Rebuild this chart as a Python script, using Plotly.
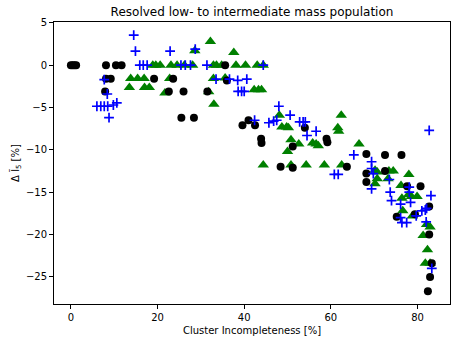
import plotly.graph_objects as go

# Black circles
black_x = [0.0, 0.4, 0.8, 1.2, 8.1, 10.4, 11.7, 8.1, 9.2, 7.9, 19.2, 23.6, 22.6, 26.0,
           25.5, 28.4, 31.5, 35.6, 36.0, 39.6, 41.0, 42.5, 43.9, 44.0, 51.2, 54.0,
           59.0, 59.2, 48.4, 51.2, 63.7, 68.2, 72.5, 76.3, 68.2, 68.2, 72.5, 77.6,
           80.7, 79.4, 75.2, 82.7, 82.7, 83.3, 82.9, 82.4]
black_y = [0, 0, 0, 0, 0, 0, 0, -1.6, -1.6, -3.1, -1.6, -1.6, -3.1, -3.1,
           -6.2, -6.2, -3.1, 0, -1.8, -7.1, -6.5, -7.1, -8.7, -9.2, -9.6, -7.4,
           -8.7, -9.1, -12.0, -12.1, -12.0, -10.5, -10.6, -10.6, -12.8, -13.8, -12.5, -14.3,
           -14.3, -17.6, -17.9, -16.7, -20.0, -23.4, -25.0, -26.7]

# Blue pluses
blue_x = [14.5, 14.9, 22.9, 28.7, 15.9, 16.7, 17.6, 25.4, 26.4, 27.6, 31.4, 44.4,
          7.7, 8.4, 6.0, 6.9, 7.7, 8.5, 9.8, 10.6, 8.8,
          33.5, 36.6, 38.5, 40.6, 38.6, 39.4, 40.0, 48.0, 50.6,
          42.4, 45.7, 46.8, 47.5, 52.8, 53.6, 54.1, 56.6, 54.5, 60.8, 61.7,
          65.3, 69.4, 69.4, 69.8, 73.5, 69.4, 73.7, 74.0,
          78.1, 78.1, 78.4, 83.1, 76.1, 81.0, 81.8, 82.1,
          79.7, 76.1, 76.4, 77.5, 82.0, 82.7, 83.3]
blue_y = [3.55, 1.65, 1.65, 1.9, 0, 0, 0, 0, 0, 0, 0, 0,
          -1.7, -3.4, -4.85, -4.85, -4.85, -4.85, -4.7, -4.45, -6.2,
          -1.65, -1.65, -1.8, -1.65, -3.1, -3.1, -3.1, -4.85, -5.9,
          -6.5, -6.8, -6.6, -6.5, -6.7, -6.7, -6.7, -7.8, -8.3, -12.9, -12.9,
          -10.6, -11.4, -12.2, -12.8, -13.5, -14.6, -15.0, -16.0,
          -14.4, -15.0, -16.2, -15.4, -16.4, -17.2, -17.1, -16.9,
          -17.8, -18.0, -18.6, -18.6, -18.5, -7.7, -24.0]

# Green triangles
green_x = [28.6, 32.2, 37.6,
           18.9, 19.6, 20.6, 23.1, 24.5, 26.2, 28.1, 32.9, 33.6, 34.8, 38.1, 40.3, 43.0, 44.4,
           13.8, 15.4, 16.9, 22.8, 32.9, 35.6,
           13.5, 17.0, 18.1, 21.7, 31.8, 42.3, 43.3, 44.0, 33.0,
           48.1, 48.7, 49.8, 50.2, 50.8, 52.6, 50.0, 55.8, 56.6, 57.1,
           62.4, 61.6, 61.8, 66.5,
           44.4, 50.8, 54.3, 58.5, 62.5,
           70.2, 70.7, 73.4, 74.4, 78.0, 70.2, 70.7, 73.2,
           76.2, 76.4, 77.9, 78.6, 79.9, 76.6, 78.8,
           82.1, 82.9, 81.3, 82.3, 81.8, 82.9]
green_y = [1.7, 2.8, 1.5,
           0, 0, 0, 0, 0, 0, 0, 0, 0, 0, 0, 0, 0, 0,
           -1.57, -1.57, -1.57, -1.57, -1.57, -1.5,
           -2.64, -2.64, -2.64, -3.27, -3.15, -2.9, -2.9, -2.9, -4.6,
           -5.9, -7.3, -7.3, -7.4, -8.8, -9.3, -10.2, -9.2, -9.3, -9.5,
           -5.9, -7.4, -7.8, -9.3,
           -11.8, -11.8, -11.8, -11.8, -11.8,
           -12.4, -12.6, -12.5, -12.5, -12.9, -14.0, -13.4, -13.4,
           -14.2, -15.7, -15.3, -15.5, -15.5, -17.2, -17.8,
           -18.8, -19.1, -20.1, -21.8, -23.4, -23.4]

x_ticks = [0, 20, 40, 60, 80]
y_ticks = [5, 0, -5, -10, -15, -20, -25]

fig = go.Figure()
fig.add_trace(go.Scatter(x=green_x, y=green_y, mode="markers",
                         marker=dict(symbol="triangle-up", size=10, color="green",
                                     line=dict(width=0))))
fig.add_trace(go.Scatter(x=black_x, y=black_y, mode="markers",
                         marker=dict(symbol="circle", size=8, color="black",
                                     line=dict(width=0))))
fig.add_trace(go.Scatter(x=blue_x, y=blue_y, mode="markers",
                         marker=dict(symbol="cross-thin", size=7, color="blue",
                                     line=dict(width=1.7, color="blue"))))

axis_common = dict(showgrid=False, zeroline=False, showline=True, linecolor="black",
                   linewidth=1, mirror=True, ticks="outside", ticklen=4, tickcolor="black",
                   automargin=False,
                   tickfont=dict(family="DejaVu Sans", size=10, color="black"))

fig.update_layout(
    width=457, height=341,
    margin=dict(l=54, r=7, t=22, b=37),
    plot_bgcolor="white", paper_bgcolor="white",
    showlegend=False,
    title=dict(text="Resolved low- to intermediate mass population",
               x=0.5, xref="paper", xanchor="center",
               y=1 - 12 / 341, yref="container", yanchor="middle",
               font=dict(family="DejaVu Sans", size=12, color="black")),
    xaxis=dict(range=[-3.9, 87.5], tickvals=x_ticks,
               title=dict(text="Cluster Incompleteness [%]", standoff=4,
                          font=dict(family="DejaVu Sans", size=10, color="black")),
               **axis_common),
    yaxis=dict(range=[-28.2, 5.1], tickvals=y_ticks,
               title=dict(text="Δ l̃<sub>5</sub> [%]", standoff=4,
                          font=dict(family="DejaVu Sans", size=10, color="black")),
               **axis_common),
)

fig.write_html("out.html", config={"displayModeBar": False},
               post_script="document.body.style.margin='0';document.body.style.overflow='hidden';")
